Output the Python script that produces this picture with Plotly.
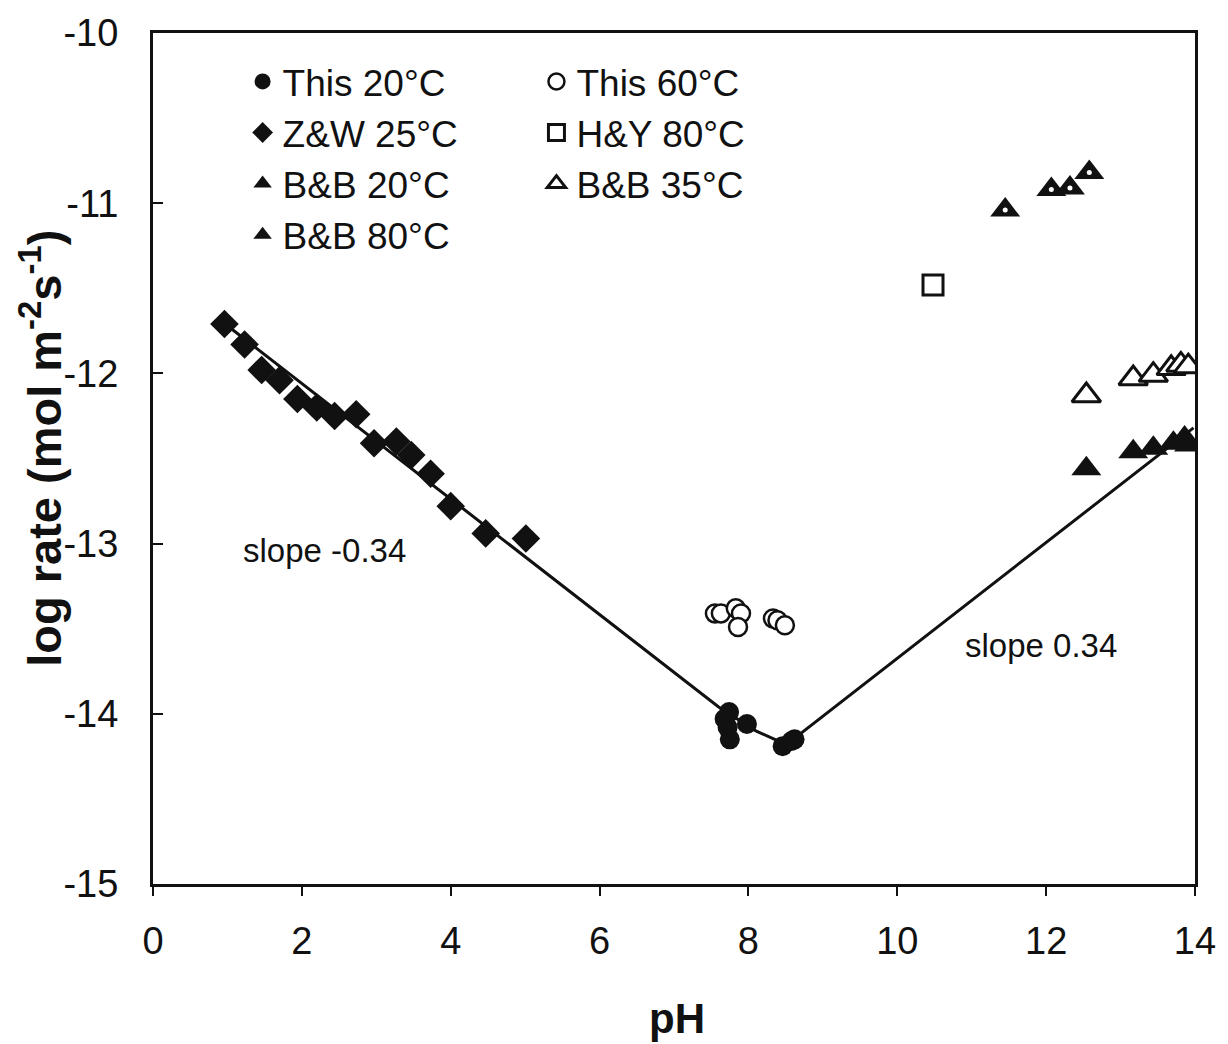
import plotly.graph_objects as go

# Dissolution rate data: pH vs log rate (mol m-2 s-1)
this20_ph = [7.68, 7.72, 7.75, 7.74, 7.98, 8.46, 8.62, 8.58]
this20_rate = [-14.03, -14.08, -14.15, -13.99, -14.06, -14.19, -14.15, -14.16]

this60_ph = [7.55, 7.63, 7.83, 7.90, 7.86, 8.33, 8.39, 8.49]
this60_rate = [-13.41, -13.41, -13.38, -13.41, -13.49, -13.44, -13.45, -13.48]

zw25_ph = [0.96, 1.23, 1.46, 1.70, 1.94, 2.20, 2.44, 2.73, 2.97, 3.27, 3.47, 3.73, 4.00, 4.47, 5.01]
zw25_rate = [-11.71, -11.83, -11.98, -12.04, -12.15, -12.20, -12.25, -12.24, -12.41, -12.40,
             -12.48, -12.59, -12.78, -12.94, -12.97]

hy80_ph = [10.48]
hy80_rate = [-11.48]

bb20_ph = [12.54, 13.17, 13.44, 13.71, 13.86, 13.92]
bb20_rate = [-12.56, -12.46, -12.44, -12.41, -12.38, -12.42]

bb35_ph = [12.54, 13.17, 13.44, 13.68, 13.81, 13.91]
bb35_rate = [-12.13, -12.03, -12.01, -11.97, -11.95, -11.96]

bb80_ph = [11.45, 12.07, 12.32, 12.58]
bb80_rate = [-11.04, -10.92, -10.91, -10.82]

# Rate law fit (slopes -0.34 and +0.34 joined at the minimum)
fit_ph = [1.0, 7.6, 8.1, 8.45, 8.6, 13.98]
fit_rate = [-11.72, -13.96, -14.10, -14.17, -14.15, -12.32]

x_ticks = [0, 2, 4, 6, 8, 10, 12, 14]
x_tick_text = ["0", "2", "4", "6", "8", "10", "12", "14"]
y_ticks = [-15, -14, -13, -12, -11, -10]
y_tick_text = ["-15", "-14", "-13", "-12", "-11", "-10"]

FONT = "Arial, Liberation Sans, sans-serif"
BLACK = "#111111"

fig = go.Figure()

fig.add_trace(go.Scatter(x=fit_ph, y=fit_rate, mode="lines",
                         line=dict(color=BLACK, width=3), showlegend=False))

# Left legend column
fig.add_trace(go.Scatter(x=this20_ph, y=this20_rate, mode="markers", name="This 20°C",
                         marker=dict(symbol="circle", size=20, color=BLACK),
                         legend="legend"))
fig.add_trace(go.Scatter(x=zw25_ph, y=zw25_rate, mode="markers", name="Z&W 25°C",
                         marker=dict(symbol="diamond", size=22, color=BLACK),
                         legend="legend"))
fig.add_trace(go.Scatter(x=bb20_ph, y=bb20_rate, mode="markers", name="B&B 20°C",
                         marker=dict(symbol="triangle-up", size=26, color=BLACK),
                         legend="legend"))
fig.add_trace(go.Scatter(x=bb80_ph, y=bb80_rate, mode="markers", name="B&B 80°C",
                         marker=dict(symbol="triangle-up", size=26, color=BLACK),
                         legend="legend"))
# white speckle inside the 80°C triangles
fig.add_trace(go.Scatter(x=bb80_ph, y=bb80_rate, mode="markers", showlegend=False,
                         marker=dict(symbol="circle", size=5, color="white",
                                     line=dict(width=0))))

# Right legend column
fig.add_trace(go.Scatter(x=this60_ph, y=this60_rate, mode="markers", name="This 60°C",
                         marker=dict(symbol="circle", size=18, color="white",
                                     line=dict(color=BLACK, width=2.5)),
                         legend="legend2"))
fig.add_trace(go.Scatter(x=hy80_ph, y=hy80_rate, mode="markers", name="H&Y 80°C",
                         marker=dict(symbol="square", size=20, color="white",
                                     line=dict(color=BLACK, width=3)),
                         legend="legend2"))
fig.add_trace(go.Scatter(x=bb35_ph, y=bb35_rate, mode="markers", name="B&B 35°C",
                         marker=dict(symbol="triangle-up", size=25, color="white",
                                     line=dict(color=BLACK, width=3)),
                         legend="legend2"))

legend_common = dict(bgcolor="rgba(0,0,0,0)", borderwidth=0,
                     font=dict(family=FONT, size=37, color=BLACK),
                     orientation="v", xanchor="left", yanchor="top",
                     itemclick=False, tracegroupgap=0)

fig.update_layout(
    width=1228, height=1044,
    margin=dict(l=153, r=29, t=30, b=160),
    paper_bgcolor="white", plot_bgcolor="white",
    font=dict(family=FONT, color=BLACK),
    legend=dict(x=0.086, y=0.979, **legend_common),
    legend2=dict(x=0.368, y=0.979, **legend_common),
    xaxis=dict(range=[0, 14], tickvals=x_ticks, ticktext=x_tick_text,
               showgrid=False, zeroline=False, showline=True, mirror=True,
               linecolor=BLACK, linewidth=3, ticks="outside", ticklen=9,
               tickwidth=2, tickcolor=BLACK, ticklabelstandoff=12,
               tickfont=dict(family=FONT, size=38, color=BLACK)),
    yaxis=dict(range=[-15, -10], tickvals=y_ticks, ticktext=y_tick_text,
               showgrid=False, zeroline=False, showline=True, mirror=True,
               linecolor=BLACK, linewidth=3, ticks="inside", ticklen=10,
               tickwidth=2, tickcolor=BLACK, ticklabelstandoff=24,
               tickfont=dict(family=FONT, size=38, color=BLACK)),
    annotations=[
        dict(x=2.3, y=-13.04, xref="x", yref="y", text="slope -0.34", showarrow=False,
             font=dict(family=FONT, size=33, color=BLACK)),
        dict(x=11.93, y=-13.6, xref="x", yref="y", text="slope 0.34", showarrow=False,
             font=dict(family=FONT, size=33, color=BLACK)),
        dict(x=-0.107, y=0.512, xref="paper", yref="paper", textangle=-90,
             text="<b>log rate (mol m<sup>-2</sup>s<sup>-1</sup>)</b>", showarrow=False,
             xanchor="center", yanchor="middle",
             font=dict(family=FONT, size=47, color=BLACK)),
        dict(x=0.503, y=-0.158, xref="paper", yref="paper", text="<b>pH</b>",
             showarrow=False, xanchor="center", yanchor="middle",
             font=dict(family=FONT, size=42, color=BLACK)),
    ],
)

fig.write_html("out.html")
